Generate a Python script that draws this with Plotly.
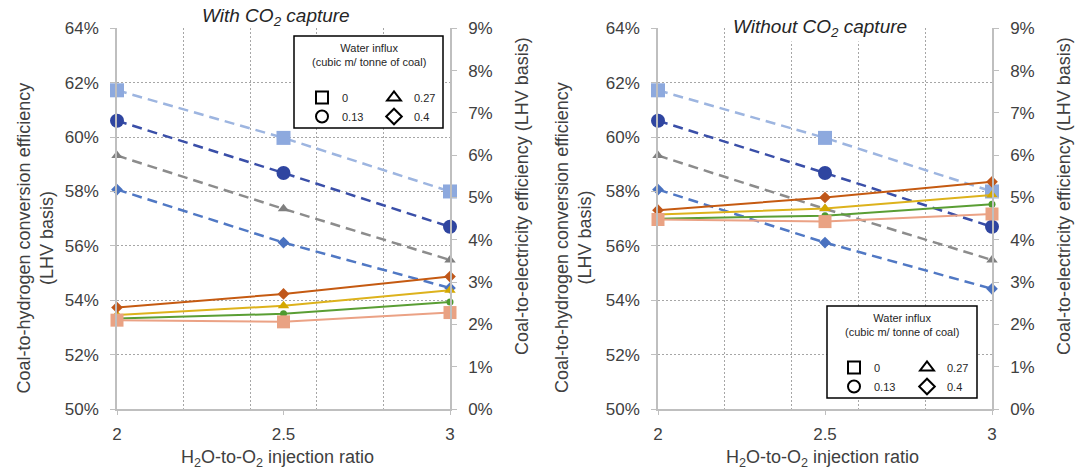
import plotly.graph_objects as go

W, H = 1077, 472
FONT = "Liberation Sans"

# ---------------- data ----------------
x_ratio = [2, 2.5, 3]
x_ticks = [2, 2.5, 3]
x_minor_grid = [2.2, 2.4, 2.6, 2.8]

influx_labels = ["0", "0.13", "0.27", "0.4"]

# With CO2 capture: coal-to-hydrogen efficiency (%), left axis
h2_cap_0 = [61.72, 59.97, 58.00]
h2_cap_013 = [60.60, 58.68, 56.70]
h2_cap_027 = [59.32, 57.36, 55.48]
h2_cap_04 = [58.07, 56.12, 54.45]
# With CO2 capture: coal-to-electricity efficiency (%), right axis
el_cap_0 = [2.10, 2.06, 2.28]
el_cap_013 = [2.14, 2.25, 2.53]
el_cap_027 = [2.22, 2.44, 2.81]
el_cap_04 = [2.40, 2.72, 3.13]

# Without CO2 capture
h2_nocap_0 = [61.72, 59.97, 58.00]
h2_nocap_013 = [60.60, 58.68, 56.70]
h2_nocap_027 = [59.32, 57.36, 55.48]
h2_nocap_04 = [58.07, 56.12, 54.42]
el_nocap_0 = [4.48, 4.43, 4.61]
el_nocap_013 = [4.50, 4.57, 4.84]
el_nocap_027 = [4.60, 4.74, 5.06]
el_nocap_04 = [4.70, 5.00, 5.37]

# ---------------- styles ----------------
h2_style = {
    "0": dict(symbol="square", size=14, mcolor="#8DA9DE", lcolor="#9DB5E0"),
    "0.13": dict(symbol="circle", size=14, mcolor="#2F45A0", lcolor="#3A4FA8"),
    "0.27": dict(symbol="triangle-up", size=10, mcolor="#7F7F7F", lcolor="#8C8C8C"),
    "0.4": dict(symbol="diamond", size=9, mcolor="#4A72C0", lcolor="#5078C4"),
}
el_style = {
    "0": dict(symbol="square", size=13, mcolor="#E9A283", lcolor="#EBA285"),
    "0.13": dict(symbol="circle", size=7, mcolor="#4E9A2F", lcolor="#5A9E34"),
    "0.27": dict(symbol="triangle-up", size=10, mcolor="#D4A800", lcolor="#DDB21C"),
    "0.4": dict(symbol="diamond", size=9, mcolor="#C0571A", lcolor="#C55A11"),
}
legend_symbols = {"0": "square-open", "0.13": "circle-open",
                  "0.27": "triangle-up-open", "0.4": "diamond-open"}

fig = go.Figure()

panels = [
    dict(x="x", yl="y", yr="y2",
         h2={"0": h2_cap_0, "0.13": h2_cap_013, "0.27": h2_cap_027, "0.4": h2_cap_04},
         el={"0": el_cap_0, "0.13": el_cap_013, "0.27": el_cap_027, "0.4": el_cap_04},
         legends=("legend", "legend2")),
    dict(x="x2", yl="y3", yr="y4",
         h2={"0": h2_nocap_0, "0.13": h2_nocap_013, "0.27": h2_nocap_027, "0.4": h2_nocap_04},
         el={"0": el_nocap_0, "0.13": el_nocap_013, "0.27": el_nocap_027, "0.4": el_nocap_04},
         legends=("legend3", "legend4")),
]

for p in panels:
    for k in influx_labels:
        s = h2_style[k]
        fig.add_trace(go.Scatter(
            x=x_ratio, y=p["h2"][k], xaxis=p["x"], yaxis=p["yl"],
            mode="lines+markers", showlegend=False, cliponaxis=False,
            line=dict(color=s["lcolor"], width=2.5, dash="10px,6px"),
            marker=dict(symbol=s["symbol"], size=s["size"], color=s["mcolor"]),
            hoverinfo="skip"))
    for k in ["0.13", "0.27", "0.4", "0"]:
        s = el_style[k]
        fig.add_trace(go.Scatter(
            x=x_ratio, y=p["el"][k], xaxis=p["x"], yaxis=p["yr"],
            mode="lines+markers", showlegend=False, cliponaxis=False,
            line=dict(color=s["lcolor"], width=2),
            marker=dict(symbol=s["symbol"], size=s["size"], color=s["mcolor"]),
            hoverinfo="skip"))
    # legend-only entries (two columns)
    for k, lg in zip(influx_labels, [p["legends"][0], p["legends"][0], p["legends"][1], p["legends"][1]]):
        fig.add_trace(go.Scatter(
            x=[None], y=[None], xaxis=p["x"], yaxis=p["yl"], mode="markers",
            name=k, legend=lg, showlegend=True,
            marker=dict(symbol=legend_symbols[k], size=12, color="black",
                        line=dict(color="black", width=2))))


def px_x(v):
    return v / W


def px_y(v):
    return 1 - v / H


ydom = [px_y(409), px_y(28.3)]
AX_LINE = "#BFBFBF"
GRID = "#A6A6A6"
TICKF = dict(family=FONT, size=17, color="#404040")


def xaxis_cfg(dom, anchor):
    return dict(domain=dom, anchor=anchor, range=[2, 3], tickvals=x_ticks,
                ticktext=[str(t) for t in x_ticks], showgrid=False, zeroline=False,
                showline=True, linecolor=AX_LINE, linewidth=1.5,
                ticks="outside", ticklen=4, tickcolor=AX_LINE, automargin=False,
                ticklabelstandoff=5, tickfont=TICKF,
                minor=dict(tickvals=x_minor_grid, showgrid=True, gridcolor=GRID,
                           griddash="2px,2px", gridwidth=1, ticks=""))


def yleft_cfg(anchor):
    return dict(domain=ydom, anchor=anchor, range=[50, 64], dtick=2, tick0=50,
                ticksuffix="%", showgrid=True, gridcolor=GRID, griddash="2px,2px",
                gridwidth=1, zeroline=False, showline=True, linecolor=AX_LINE,
                linewidth=1.5, ticks="outside", ticklen=5, tickcolor=AX_LINE,
                automargin=False, ticklabelstandoff=8, tickfont=TICKF)


def yright_cfg(anchor, overlay):
    return dict(anchor=anchor, overlaying=overlay, side="right", range=[0, 9],
                dtick=1, tick0=0, ticksuffix="%", showgrid=False, zeroline=False,
                showline=True, linecolor=AX_LINE, linewidth=1.5, ticks="outside",
                automargin=False, ticklen=5, tickcolor=AX_LINE,
                ticklabelstandoff=8, tickfont=TICKF)


def leg_cfg(xl, ytop):
    return dict(x=px_x(xl), y=px_y(ytop), xanchor="left", yanchor="top",
                orientation="v", bgcolor="rgba(0,0,0,0)", borderwidth=0,
                itemwidth=30, tracegroupgap=0, itemclick=False, itemdoubleclick=False,
                font=dict(family=FONT, size=11, color="#262626"))


# legend boxes (pixel positions in the picture)
boxes = [dict(x0=294, x1=443, y0=36, y1=128), dict(x0=827, x1=977, y0=306, y1=398)]

fig.update_layout(
    width=W, height=H, margin=dict(l=0, r=0, t=0, b=0, autoexpand=False),
    paper_bgcolor="white", plot_bgcolor="white",
    xaxis=xaxis_cfg([px_x(117), px_x(450)], "y"),
    yaxis=yleft_cfg("x"),
    yaxis2=yright_cfg("x", "y"),
    xaxis2=xaxis_cfg([px_x(658), px_x(992)], "y3"),
    yaxis3=yleft_cfg("x2"),
    yaxis4=yright_cfg("x2", "y3"),
    legend=leg_cfg(302, 83),
    legend2=leg_cfg(374, 83),
    legend3=leg_cfg(834, 353),
    legend4=leg_cfg(907, 353),
    shapes=[dict(type="rect", xref="paper", yref="paper",
                 x0=px_x(b["x0"]), x1=px_x(b["x1"]), y0=px_y(b["y1"]), y1=px_y(b["y0"]),
                 line=dict(color="black", width=1.5), fillcolor="white", layer="above")
            for b in boxes],
)

AXT = dict(family=FONT, size=18, color="#404040")
ann = []
# panel titles
ann.append(dict(text="<i>With CO<sub>2</sub> capture</i>", x=px_x(276), y=px_y(17),
                font=dict(family=FONT, size=19, color="#262626")))
ann.append(dict(text="<i>Without CO<sub>2</sub> capture</i>", x=px_x(820), y=px_y(28),
                font=dict(family=FONT, size=19, color="#262626"), bgcolor="white"))
# axis titles
for cx in (34.5, 573):
    ann.append(dict(text="Coal-to-hydrogen conversion efficiency<br>(LHV basis)",
                    x=px_x(cx), y=px_y(238), textangle=-90, font=AXT))
for cx in (522, 1064):
    ann.append(dict(text="Coal-to-electricity efficiency (LHV basis)",
                    x=px_x(cx), y=px_y(196), textangle=-90, font=AXT))
for cx in (277, 822):
    ann.append(dict(text="H<sub>2</sub>O-to-O<sub>2</sub> injection ratio",
                    x=px_x(cx), y=px_y(458), font=AXT))
# legend titles
for b in boxes:
    ann.append(dict(text="Water influx<br>(cubic m/ tonne of coal)",
                    x=px_x((b["x0"] + b["x1"]) / 2), y=px_y(b["y0"] + 19),
                    font=dict(family=FONT, size=11, color="#262626")))
for a in ann:
    a.update(xref="paper", yref="paper", showarrow=False, xanchor="center", yanchor="middle")
fig.update_layout(annotations=ann)

fig.write_html("out.html", config={"displayModeBar": False},
               post_script="document.body.style.margin='0';document.body.style.overflow='hidden';")
